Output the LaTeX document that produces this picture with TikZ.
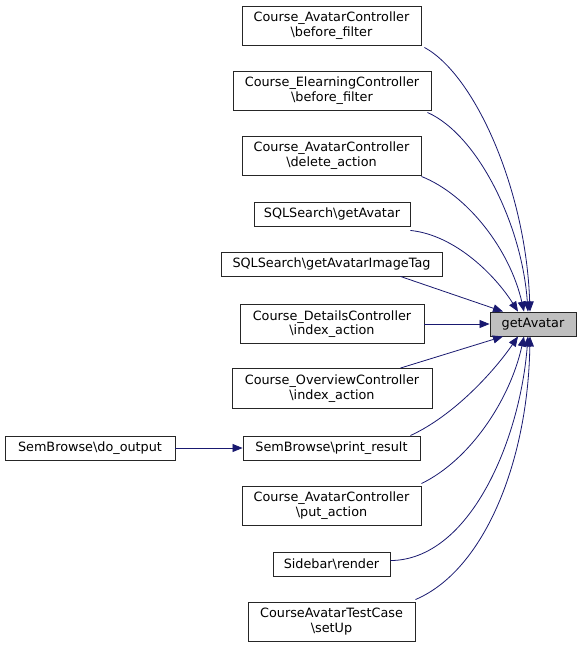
\documentclass[tikz,border=0pt]{standalone}
\usepackage{fontspec}
\setmainfont{DejaVu Sans}
\usetikzlibrary{arrows.meta}
\definecolor{edgec}{HTML}{191970}
\definecolor{hl}{HTML}{BFBFBF}
\tikzset{
  fn/.style={draw=black!85, line width=0.9pt, fill=white, inner sep=0pt, align=center, font=\fontsize{12.8pt}{14.5pt}\selectfont, minimum height=24pt},
  fn2/.style={fn, minimum height=39pt},
  call/.style={draw=edgec, line width=0.8pt, -{Triangle[length=10pt,width=8pt]}, fill=none},
}
\newcommand{\bs}{\textbackslash}
\begin{document}
\begin{tikzpicture}[x=1pt,y=-1pt]
\useasboundingbox[fill=white] (0,0) rectangle (581,651);
\node[fn2, minimum width=179pt] (n1) at (331.5,25.5) {Course\_AvatarController\\\bs before\_filter};
\node[fn2, minimum width=198pt] (n2) at (332,90.5) {Course\_ElearningController\\\bs before\_filter};
\node[fn2, minimum width=179pt] (n3) at (331.5,155.5) {Course\_AvatarController\\\bs delete\_action};
\node[fn, minimum width=156pt] (n4) at (332,214) {SQLSearch\bs getAvatar};
\node[fn, minimum width=221pt] (n5) at (331.5,264) {SQLSearch\bs getAvatarImageTag};
\node[fn2, minimum width=184pt] (n6) at (332,324) {Course\_DetailsController\\\bs index\_action};
\node[fn2, minimum width=200pt, minimum height=40pt] (n7) at (332,388.5) {Course\_OverviewController\\\bs index\_action};
\node[fn, minimum width=177pt] (n8) at (331.5,448) {SemBrowse\bs print\_result};
\node[fn2, minimum width=179pt] (n9) at (331.5,505.5) {Course\_AvatarController\\\bs put\_action};
\node[fn, minimum width=117pt] (n10) at (331.5,564) {Sidebar\bs render};
\node[fn2, minimum width=167pt] (n11) at (331.5,621.5) {CourseAvatarTestCase\\\bs setUp};
\node[fn, minimum width=170pt] (d) at (90,448) {SemBrowse\bs do\_output};
\node[fn, minimum width=86pt, fill=hl] (g) at (533,324) {getAvatar};

\coordinate (t1) at ([xshift=-3pt]g.north);
\coordinate (t2) at ([xshift=-5pt]g.north);
\coordinate (t3) at ([xshift=-9pt]g.north);
\coordinate (t4) at ([xshift=-15pt]g.north);
\coordinate (t5) at ([xshift=-30pt]g.north);
\coordinate (b7) at ([xshift=-30pt]g.south);
\coordinate (b8) at ([xshift=-15pt]g.south);
\coordinate (b9) at ([xshift=-9pt]g.south);
\coordinate (b10) at ([xshift=-5pt]g.south);
\coordinate (b11) at ([xshift=-3pt]g.south);

\draw[call] ([xshift=3pt,yshift=-2pt]n1.south east) .. controls (475,75) and (526,190) .. (t1);
\draw[call] ([xshift=-4pt,yshift=-2pt]n2.south east) .. controls (478,135) and (522,225) .. (t2);
\draw[call] ([yshift=-1pt]n3.south east) .. controls (468,195) and (510,250) .. (t3);
\draw[call] ([yshift=-4pt]n4.south east) .. controls (455,235) and (495,275) .. (t4);
\draw[call] ([xshift=-42pt]n5.south east) -- (t5);
\draw[call] (n6.east) -- (g.west);
\draw[call] ([xshift=-32pt]n7.north east) -- (b7);
\draw[call] ([xshift=-10pt]n8.north east) .. controls (455,415) and (495,370) .. (b8);
\draw[call] ([yshift=2pt]n9.north east) .. controls (470,460) and (510,400) .. (b9);
\draw[call] ([yshift=-9pt]n10.north east) .. controls (470,560) and (520,440) .. (b10);
\draw[call] ([yshift=2pt]n11.north east) .. controls (485,570) and (528,460) .. (b11);
\draw[call] (d.east) -- (n8.west);
\end{tikzpicture}
\end{document}
